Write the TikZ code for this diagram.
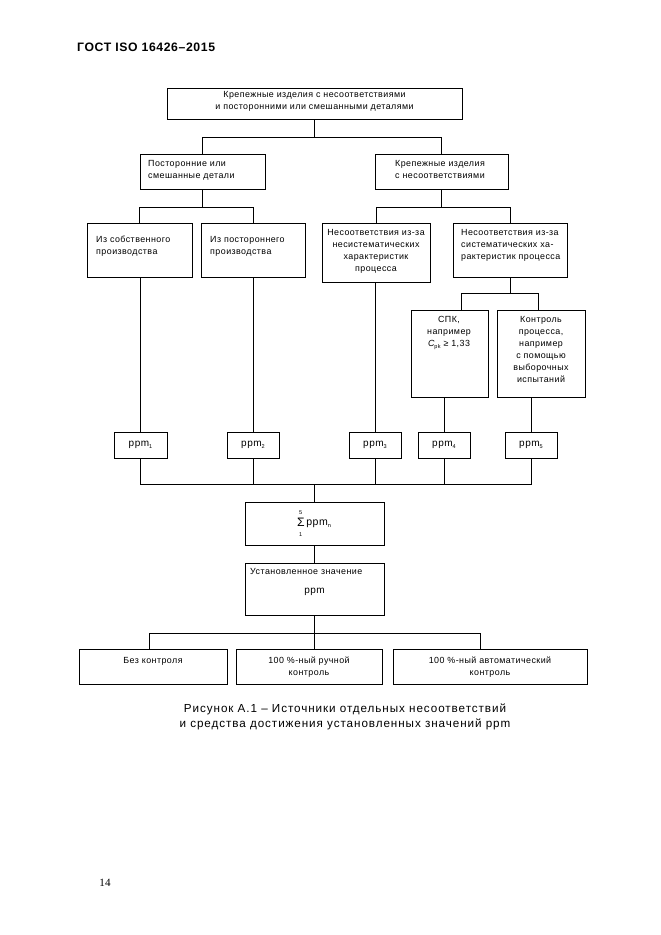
\documentclass[tikz,border=0pt]{standalone}
\usepackage{fontspec}
\setmainfont{Liberation Sans}[LetterSpace=5]
\newfontfamily\capfont{Liberation Sans}[LetterSpace=8]
\newfontfamily\hdfont{Liberation Sans}[LetterSpace=5]
\newfontfamily\numfont{Liberation Serif}
\newcommand\mysub[1]{\raisebox{-0.35ex}{\fontsize{5}{5}\selectfont #1}}
\tikzset{
  boxst/.style={draw, line width=0.6pt, inner sep=0pt, outer sep=0pt, anchor=north west},
  txt/.style={inner sep=0pt, font=\fontsize{8}{10.8}\selectfont},
  ppmt/.style={inner sep=0pt, font=\fontsize{9}{10}\selectfont},
  ln/.style={line width=0.6pt},
}
\newcommand\bx[5]{\node[boxst, minimum width={(#4-#2)*0.9pt}, minimum height={(#5-#3)*0.9pt}] (#1) at (#2,#3) {};}
\begin{document}
\begin{tikzpicture}[x=0.9pt,y=-0.9pt]
\fill[white] (0,0) rectangle (661,935);
\useasboundingbox (0,0) rectangle (661,935);
% boxes
\bx{top}{167}{88}{462}{119}
\bx{la}{140}{154}{265}{189}
\bx{lb}{375}{154}{508}{189}
\bx{ma}{87}{223}{192}{277}
\bx{mb}{201}{223}{305}{277}
\bx{mc}{322}{223}{430}{282}
\bx{md}{453}{223}{567}{277}
\bx{sa}{411}{310}{488}{397}
\bx{sb}{497}{310}{585}{397}
\bx{p1}{114}{432}{167}{458}
\bx{p2}{227}{432}{279}{458}
\bx{p3}{349}{432}{401}{458}
\bx{p4}{418}{432}{470}{458}
\bx{p5}{505}{432}{557}{458}
\bx{sum}{245}{502}{384}{545}
\bx{ust}{245}{563}{384}{615}
\bx{ba}{79}{649}{227}{684}
\bx{bb}{236}{649}{382}{684}
\bx{bc}{393}{649}{587}{684}
% connectors
\coordinate (j1) at (0,137);
\draw[ln] (top.south) -- (top.south |- j1);
\draw[ln] (la.north) -- (la.north |- j1) -- (lb.north |- j1) -- (lb.north);
\coordinate (j2) at (0,207);
\draw[ln] (la.south) -- (la.south |- j2);
\draw[ln] (ma.north) -- (ma.north |- j2) -- (mb.north |- j2) -- (mb.north);
\draw[ln] (lb.south) -- (lb.south |- j2);
\draw[ln] (mc.north) -- (mc.north |- j2) -- (md.north |- j2) -- (md.north);
\coordinate (b4l) at (461,293);
\coordinate (b4r) at (538,293);
\draw[ln] (md.south) -- (md.south |- b4l);
\draw[ln] (sa.north -| b4l) -- (b4l) -- (b4r) -- (sb.north -| b4r);
\draw[ln] (p1.north) -- (p1.north |- ma.south);
\draw[ln] (p2.north) -- (p2.north |- mb.south);
\draw[ln] (p3.north) -- (p3.north |- mc.south);
\draw[ln] (p4.north) -- (p4.north |- sa.south);
\draw[ln] (p5.north) -- (p5.north |- sb.south);
\coordinate (j5) at (0,484);
\draw[ln] (p1.south) -- (p1.south |- j5) -- (p5.south |- j5) -- (p5.south);
\draw[ln] (p2.south) -- (p2.south |- j5);
\draw[ln] (p3.south) -- (p3.south |- j5);
\draw[ln] (p4.south) -- (p4.south |- j5);
\draw[ln] (sum.north) -- (sum.north |- j5);
\draw[ln] (sum.south) -- (ust.north);
\draw[ln] (ust.south) -- (ust.south |- bb.north);
\coordinate (b6l) at (149,633);
\coordinate (b6r) at (480,633);
\draw[ln] (ba.north -| b6l) -- (b6l) -- (b6r) -- (bc.north -| b6r);
% texts
\node[txt, anchor=north, align=center] (ttop) at (314.5,91.5) {Крепежные изделия с несоответствиями\\и посторонними или смешанными деталями};
\node[txt, anchor=north west, align=left] (tla) at (148,160) {Посторонние или\\смешанные детали};
\node[txt, anchor=north, align=center] (tlb) at (440,160) {Крепежные изделия\\с несоответствиями};
\node[txt, anchor=north west, align=left] (tma) at (96,236) {Из собственного\\производства};
\node[txt, anchor=north west, align=left] (tmb) at (210,236) {Из постороннего\\производства};
\node[txt, anchor=north, align=center] (tmc) at (376,229) {Несоответствия из-за\\несистематических\\характеристик\\процесса};
\node[txt, anchor=north west, align=left] (tmd) at (461,229) {Несоответствия из-за\\систематических ха-\\рактеристик процесса};
\node[txt, anchor=north, align=center] (tsa) at (449,316) {СПК,\\например\\{\itshape C}\mysub{pk} ≥ 1,33};
\node[txt, anchor=north, align=center] (tsb) at (541,316) {Контроль\\процесса,\\например\\с помощью\\выборочных\\испытаний};
\node[ppmt] (tp1) at (p1.center) {ppm\mysub{1}};
\node[ppmt] (tp2) at (p2.center) {ppm\mysub{2}};
\node[ppmt] (tp3) at (p3.center) {ppm\mysub{3}};
\node[ppmt] (tp4) at (p4.center) {ppm\mysub{4}};
\node[ppmt] (tp5) at (p5.center) {ppm\mysub{5}};
\node[ppmt, font=\fontsize{9.5}{10}\selectfont] (tsum) at (314,523) {\begin{tabular}{@{}c@{}}{\fontsize{5}{5}\selectfont 5}\\[0pt]{\fontsize{11}{11}\selectfont Σ}\\[-1pt]{\fontsize{5}{5}\selectfont 1}\end{tabular}\,ppm\mysub{n}};
\node[txt, anchor=north west] (tust1) at (250,568) {Установленное значение};
\node[ppmt] (tust2) at (314.5,592) {ppm};
\node[txt, anchor=north] (tba) at (153,657) {Без контроля};
\node[txt, anchor=north, align=center] (tbb) at (309,657) {100 \%-ный ручной\\контроль};
\node[txt, anchor=north, align=center] (tbc) at (490,657) {100 \%-ный автоматический\\контроль};
\node[inner sep=0pt, anchor=north, align=center, font=\capfont\fontsize{10.5}{13.5}\selectfont] (cap) at (345,703.5) {Рисунок А.1 – Источники отдельных несоответствий\\и средства достижения установленных значений ppm};
\node[inner sep=0pt, anchor=west, font=\hdfont\bfseries\fontsize{11}{13}\selectfont] (hdr) at (77,47) {ГОСТ ISO 16426–2015};
\node[inner sep=0pt, font=\numfont\fontsize{10}{12}\selectfont] (pg) at (105,883) {14};
\end{tikzpicture}
\end{document}
